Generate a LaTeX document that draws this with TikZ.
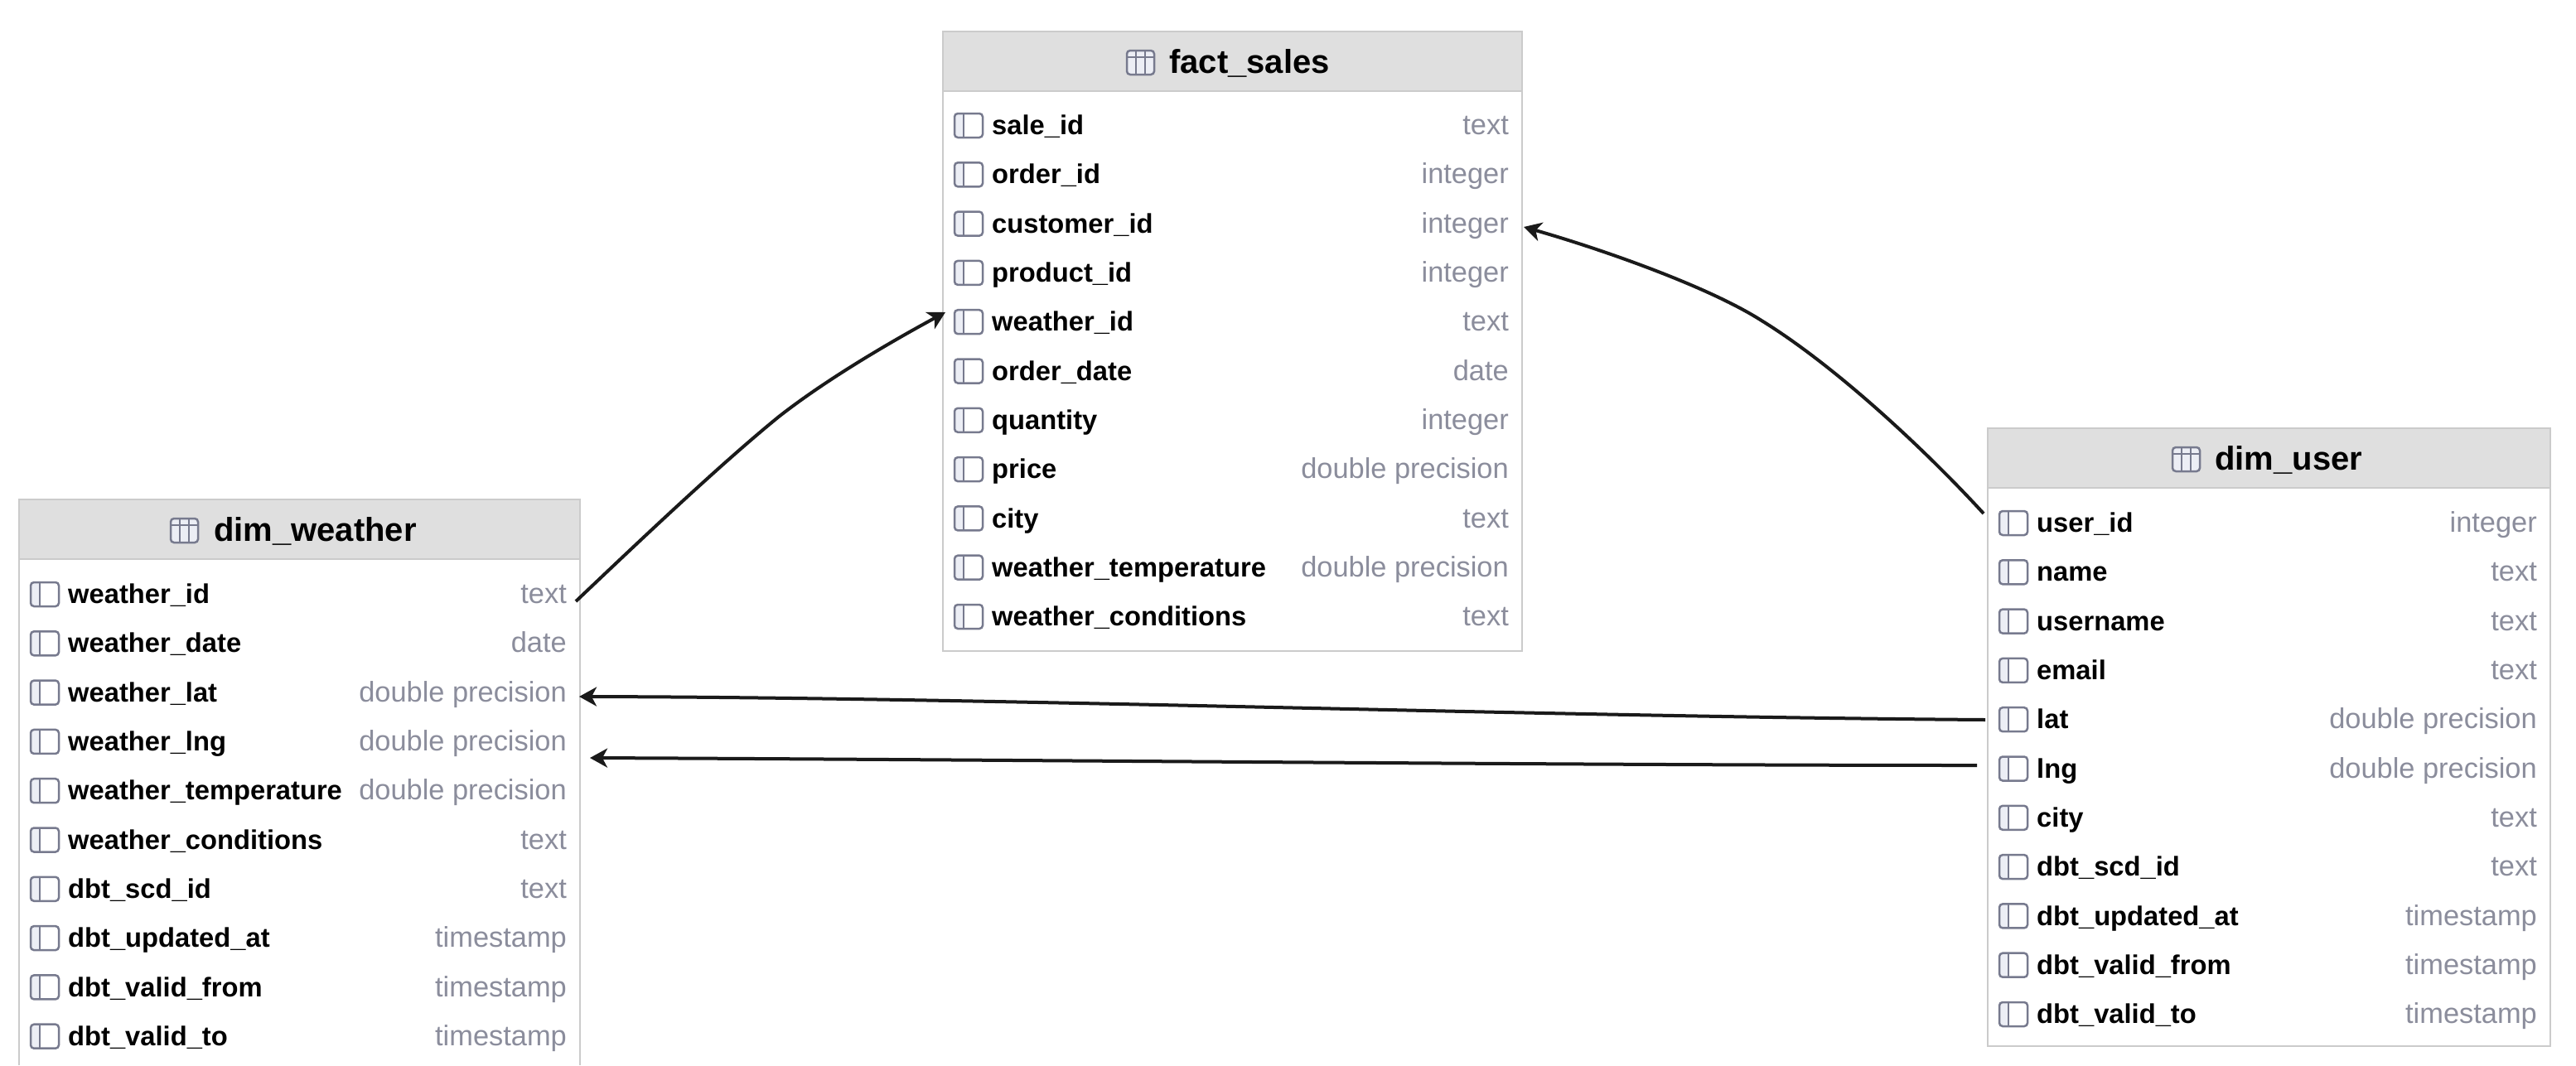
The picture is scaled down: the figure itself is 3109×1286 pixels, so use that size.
\documentclass[tikz,border=0pt]{standalone}
\usepackage{fontspec}
\setmainfont{Liberation Sans}
\usetikzlibrary{arrows.meta}
\definecolor{bordercol}{HTML}{CBCBCB}
\definecolor{headcol}{HTML}{DFDFDF}
\definecolor{iconline}{HTML}{777A8E}
\definecolor{iconfill}{HTML}{ECEEF5}
\definecolor{typecol}{HTML}{8B8D9C}
\definecolor{linecol}{HTML}{1A1A1A}
\tikzset{
  x=1pt,y=-1pt,
  tablebox/.style={draw=bordercol,line width=2.5pt,fill=white,inner sep=0pt,outer sep=0pt,anchor=north west},
  openbox/.style={fill=white,inner sep=0pt,outer sep=0pt,anchor=north west},
  headbox/.style={draw=bordercol,line width=2.5pt,fill=headcol,inner sep=0pt,outer sep=0pt,anchor=north west},
  titletext/.style={inner sep=0pt,anchor=mid west,font=\fontsize{40}{44}\selectfont\bfseries,text=black},
  nametext/.style={inner sep=0pt,anchor=mid west,font=\fontsize{32.7}{38}\selectfont\bfseries,text=black},
  typetext/.style={inner sep=0pt,anchor=mid east,font=\fontsize{34.4}{38}\selectfont,text=typecol},
  icon/.style={draw=iconline,line width=2.5pt,rounded corners=4pt},
  rel/.style={draw=linecol,line width=4pt,-{Stealth[length=21pt,width=23pt,inset=6pt]}},
}
% \dbrow{node prefix}{left x}{right x}{row y}{name}{type}
\newcommand{\dbrow}[6]{%
  \fill[iconfill,rounded corners=4pt] (#2+14,#4-14) rectangle (#2+25,#4+15);
  \draw[icon] (#2+14,#4-14) rectangle (#2+48,#4+15);
  \draw[iconline,line width=2.5pt] (#2+25,#4-14) -- (#2+25,#4+15);
  \node[nametext] (#1n) at (#2+59,#4+9) {#5};
  \node[typetext] (#1t) at (#3-16,#4+9) {#6};
}
% \tabicon{left x}{centre y}
\newcommand{\tabicon}[2]{%
  \fill[iconfill,rounded corners=4pt] (#1,#2-14) rectangle (#1+33,#2+15);
  \draw[icon] (#1,#2-14) rectangle (#1+33,#2+15);
  \draw[iconline,line width=2.5pt] (#1,#2-6) -- (#1+33,#2-6)
    (#1+11,#2-14) -- (#1+11,#2+15) (#1+22,#2-14) -- (#1+22,#2+15);
}
\begin{document}
\begin{tikzpicture}
\useasboundingbox (0,0) rectangle (3109,1286);
\fill[white] (0,0) rectangle (3109,1286);

% fact_sales
\node[tablebox,minimum width=699pt,minimum height=748pt] (fact) at (1138,38) {};
\node[headbox,minimum width=699pt,minimum height=72pt] (facthead) at (1138,38) {};
\tabicon{1360}{75}
\node[titletext] (facttitle) at (1411,86) {fact\_sales};
\dbrow{f1}{1138}{1837}{151}{sale\_id}{text}
\dbrow{f2}{1138}{1837}{210.3}{order\_id}{integer}
\dbrow{f3}{1138}{1837}{269.6}{customer\_id}{integer}
\dbrow{f4}{1138}{1837}{328.9}{product\_id}{integer}
\dbrow{f5}{1138}{1837}{388.2}{weather\_id}{text}
\dbrow{f6}{1138}{1837}{447.5}{order\_date}{date}
\dbrow{f7}{1138}{1837}{506.8}{quantity}{integer}
\dbrow{f8}{1138}{1837}{566.1}{price}{double precision}
\dbrow{f9}{1138}{1837}{625.4}{city}{text}
\dbrow{f10}{1138}{1837}{684.7}{weather\_temperature}{double precision}
\dbrow{f11}{1138}{1837}{744}{weather\_conditions}{text}

% dim_weather (runs off the bottom of the picture)
\node[openbox,minimum width=677pt,minimum height=683pt] (weather) at (23,603) {};
\draw[bordercol,line width=2.5pt] (weather.south west) -- (weather.north west) -- (weather.north east) -- (weather.south east);
\node[headbox,minimum width=677pt,minimum height=72pt] (weatherhead) at (23,603) {};
\tabicon{206}{640}
\node[titletext] (weathertitle) at (258,651) {dim\_weather};
\dbrow{w1}{23}{700}{717}{weather\_id}{text}
\dbrow{w2}{23}{700}{776.3}{weather\_date}{date}
\dbrow{w3}{23}{700}{835.6}{weather\_lat}{double precision}
\dbrow{w4}{23}{700}{894.9}{weather\_lng}{double precision}
\dbrow{w5}{23}{700}{954.2}{weather\_temperature}{double precision}
\dbrow{w6}{23}{700}{1013.5}{weather\_conditions}{text}
\dbrow{w7}{23}{700}{1072.8}{dbt\_scd\_id}{text}
\dbrow{w8}{23}{700}{1132.1}{dbt\_updated\_at}{timestamp}
\dbrow{w9}{23}{700}{1191.4}{dbt\_valid\_from}{timestamp}
\dbrow{w10}{23}{700}{1250.7}{dbt\_valid\_to}{timestamp}

% dim_user
\node[tablebox,minimum width=679pt,minimum height=746pt] (user) at (2399,517) {};
\node[headbox,minimum width=679pt,minimum height=72pt] (userhead) at (2399,517) {};
\tabicon{2622}{554}
\node[titletext] (usertitle) at (2673,565) {dim\_user};
\dbrow{u1}{2399}{3078}{631}{user\_id}{integer}
\dbrow{u2}{2399}{3078}{690.3}{name}{text}
\dbrow{u3}{2399}{3078}{749.6}{username}{text}
\dbrow{u4}{2399}{3078}{808.9}{email}{text}
\dbrow{u5}{2399}{3078}{868.2}{lat}{double precision}
\dbrow{u6}{2399}{3078}{927.5}{lng}{double precision}
\dbrow{u7}{2399}{3078}{986.8}{city}{text}
\dbrow{u8}{2399}{3078}{1046.1}{dbt\_scd\_id}{text}
\dbrow{u9}{2399}{3078}{1105.4}{dbt\_updated\_at}{timestamp}
\dbrow{u10}{2399}{3078}{1164.7}{dbt\_valid\_from}{timestamp}
\dbrow{u11}{2399}{3078}{1224}{dbt\_valid\_to}{timestamp}

% connector ends
\coordinate (aS) at (695,726);
\coordinate (aE) at (1141,377);
\coordinate (bS) at (2394,620);
\coordinate (bE) at (1839,274);
\coordinate (cS) at (2396,869);
\coordinate (cE) at (699,841);
\coordinate (dS) at (2386,924);
\coordinate (dE) at (712,915);

\draw[rel] (aS) .. controls (775,650) and (870,560) .. (940,503) .. controls (1000,456) and (1080,410) .. (aE);
\draw[rel] (bS) .. controls (2330,550) and (2220,445) .. (2126,387) .. controls (2060,345) and (1930,300) .. (bE);
\draw[rel] (cS) .. controls (1850,865) and (1200,842) .. (cE);
\draw[rel] (dS) .. controls (1900,924) and (1200,917) .. (dE);
\end{tikzpicture}
\end{document}
